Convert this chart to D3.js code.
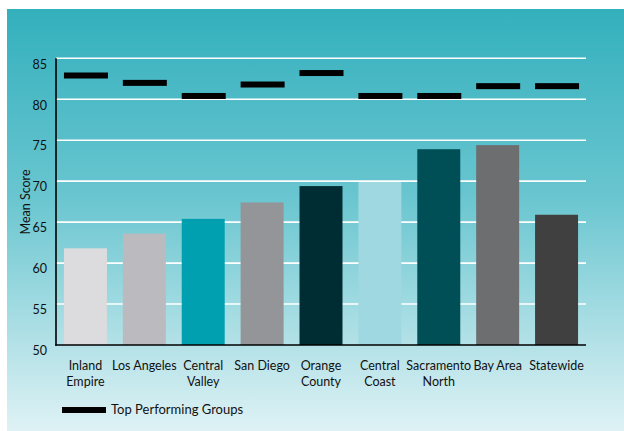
<!DOCTYPE html>
<html>
<head>
<meta charset="utf-8">
<script src="https://cdn.jsdelivr.net/npm/d3@7"></script>
<style>
  html, body { margin: 0; padding: 0; background: #ffffff; }
  svg { display: block; }
  text { font-family: Lato, "Open Sans", sans-serif; fill: #111; }
</style>
</head>
<body>
<svg id="chart" width="624" height="431"></svg>
<script>
const categories = ["Inland Empire", "Los Angeles", "Central Valley", "San Diego", "Orange County", "Central Coast", "Sacramento North", "Bay Area", "Statewide"];
const categoryLabels = ["Inland\nEmpire", "Los Angeles", "Central\nValley", "San Diego", "Orange\nCounty", "Central\nCoast", "Sacramento\nNorth", "Bay Area", "Statewide"];
const meanScores = [61.8, 63.6, 65.4, 67.4, 69.4, 69.9, 73.9, 74.4, 65.9];
const topPerformingScores = [82.9, 82.0, 80.4, 81.8, 83.2, 80.4, 80.4, 81.6, 81.6];
const barColors = ["#dcdcde", "#bbbbbf", "#00a0b0", "#939598", "#002d33", "#9fd8e0", "#004e56", "#6d6e70", "#404041"];
const yTicks = [50, 55, 60, 65, 70, 75, 80, 85];
const yTitle = "Mean Score";
const legendLabel = "Top Performing Groups";

const svg = d3.select("#chart");
const W = 624, H = 431;

// background panel gradient
const defs = svg.append("defs");
const grad = defs.append("linearGradient").attr("id", "bg").attr("x1", 0).attr("y1", 0).attr("x2", 0).attr("y2", 1);
grad.append("stop").attr("offset", "0%").attr("stop-color", "#33b0bd");
grad.append("stop").attr("offset", "45%").attr("stop-color", "#6ac6d0");
grad.append("stop").attr("offset", "100%").attr("stop-color", "#dff2f5");
svg.append("rect").attr("x", 7).attr("y", 9).attr("width", W - 7).attr("height", H - 9).attr("fill", "url(#bg)");

const x = d3.scaleBand().domain(categories).range([56, 586]).paddingInner(0.27).paddingOuter(0.135);
const y = d3.scaleLinear().domain([50, 85]).range([345, 58.3]);

// gridlines
svg.append("g").selectAll("line").data(yTicks.filter(d => d > 50)).join("line")
  .attr("x1", 56).attr("x2", 586)
  .attr("y1", d => y(d)).attr("y2", d => y(d))
  .attr("stroke", "#ffffff").attr("stroke-width", 1.6);

// bars
svg.append("g").selectAll("rect").data(categories).join("rect")
  .attr("x", d => x(d)).attr("width", x.bandwidth())
  .attr("y", (d, i) => y(meanScores[i]))
  .attr("height", (d, i) => y(50) - y(meanScores[i]))
  .attr("fill", (d, i) => barColors[i]);

// top performing markers
svg.append("g").selectAll("rect").data(categories).join("rect")
  .attr("x", d => x(d)).attr("width", x.bandwidth() + 1)
  .attr("y", (d, i) => y(topPerformingScores[i]) - 3)
  .attr("height", 6)
  .attr("fill", "#000");

// axes lines
svg.append("line").attr("x1", 56).attr("x2", 56).attr("y1", y(85)).attr("y2", y(50) + 0.8)
  .attr("stroke", "#000").attr("stroke-width", 1.6);
svg.append("line").attr("x1", 55.2).attr("x2", 586).attr("y1", y(50)).attr("y2", y(50))
  .attr("stroke", "#000").attr("stroke-width", 1.6);

// y tick labels
const yAxis = svg.append("g").attr("transform", "translate(56,0)")
  .call(d3.axisLeft(y).tickValues(yTicks).tickSize(0).tickPadding(9));
yAxis.select(".domain").remove();
yAxis.selectAll("text").attr("dy", "0.78em").attr("font-size", 12.5)
  .style("font-family", "Lato, 'Open Sans', sans-serif").attr("fill", "#111")
  .attr("transform", "translate(0,0)");

// x labels
const xl = svg.append("g");
categories.forEach((c, i) => {
  const lines = categoryLabels[i].split("\n");
  const t = xl.append("text").attr("x", x(c) + x.bandwidth() / 2).attr("y", 369.5)
    .attr("text-anchor", "middle").attr("font-size", 12.5);
  lines.forEach((ln, j) => {
    t.append("tspan").attr("x", x(c) + x.bandwidth() / 2).attr("dy", j === 0 ? 0 : 16).text(ln);
  });
});

// y title
svg.append("text").attr("transform", "translate(30,202) rotate(-90)")
  .attr("text-anchor", "middle").attr("font-size", 12.5).text(yTitle);

// legend
svg.append("rect").attr("x", 62).attr("y", 407).attr("width", 44).attr("height", 6).attr("fill", "#000");
svg.append("text").attr("x", 111).attr("y", 414).attr("font-size", 13).text(legendLabel);
</script>
</body>
</html>
